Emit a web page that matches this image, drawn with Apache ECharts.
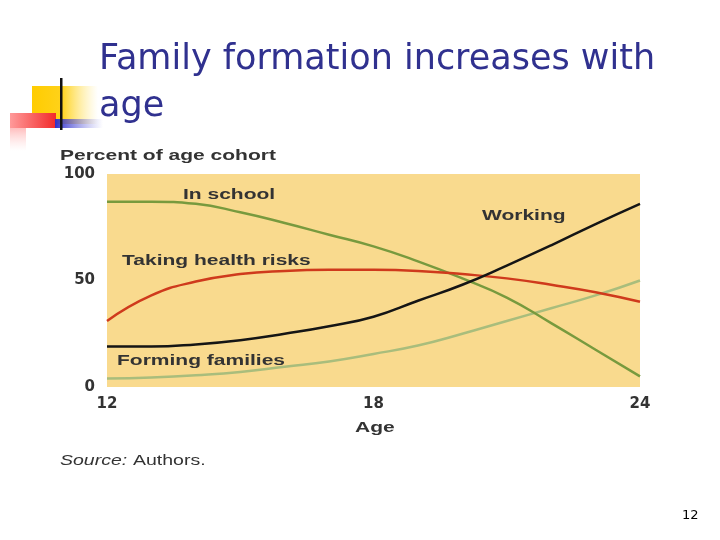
<!DOCTYPE html>
<html>
<head>
    <meta charset="UTF-8">
    <title>Family formation increases with age</title>
    <script src="https://cdn.jsdelivr.net/npm/echarts@6/dist/echarts.min.js"></script>
    <style>
        html, body { margin: 0; padding: 0; background: #fff; }
    </style>
</head>
<body>
<div id="container" style="height:540px;width:720px;"></div>
<script>
    // ages along the x axis
    var ages = [12, 13, 14, 15, 16, 17, 18, 19, 20, 21, 22, 23, 24];
    // percent of age cohort
    var inSchool = [87, 87, 86, 82, 77, 71.5, 66, 59, 51, 42, 30, 17.5, 5];
    var healthRisks = [31, 43, 49.5, 53, 54.5, 55, 55, 54.5, 53, 51, 48, 44.5, 40];
    var working = [19, 19, 20, 22, 25, 28.5, 33, 40.5, 48, 57, 66.5, 76.5, 86];
    var formingFamilies = [4, 4.5, 5.5, 7, 9.5, 12, 15.5, 19.5, 25, 31, 37, 43, 50];
    var xTicks = [12, 18, 24];
    var yTicks = [0, 50, 100];

    var dom = document.getElementById("container");
    var myChart = echarts.init(dom);

    function pairs(vals) {
        return ages.map(function (a, i) { return [a, vals[i]]; });
    }
    function line(name, vals, color, width) {
        return {
            name: name,
            type: 'line',
            smooth: 0.5,
            symbol: 'none',
            data: pairs(vals),
            lineStyle: {color: color, width: width},
            z: 3
        };
    }
    // stretched chart text (the picture is widened horizontally)
    function label(text, x, y, font, sx) {
        return {
            type: 'text',
            x: x, y: y,
            scaleX: sx || 1.4,
            style: {
                text: text,
                fill: '#333',
                font: font || 'bold 15px "Liberation Sans", Arial, sans-serif',
                verticalAlign: 'middle'
            },
            z: 10
        };
    }

    var option = {
        backgroundColor: '#ffffff',
        animation: false,
        grid: {
            left: 107, right: 80, top: 174, bottom: 153,
            show: true, backgroundColor: '#f9da8e', borderWidth: 0
        },
        xAxis: {
            type: 'value', min: 12, max: 24, interval: 6,
            axisLine: {show: false}, axisTick: {show: false}, splitLine: {show: false},
            axisLabel: {
                margin: 10, color: '#333', fontWeight: 'bold',
                fontFamily: 'DejaVu Sans', fontSize: 15,
                customValues: xTicks
            }
        },
        yAxis: {
            type: 'value', min: 0, max: 100, interval: 50,
            axisLine: {show: false}, axisTick: {show: false}, splitLine: {show: false},
            axisLabel: {
                margin: 12, color: '#333', fontWeight: 'bold',
                fontFamily: 'DejaVu Sans', fontSize: 15,
                customValues: yTicks
            }
        },
        series: [
            line('Forming families', formingFamilies, '#a9bd7c', 2.5),
            line('In school', inSchool, '#789a3e', 2.5),
            line('Taking health risks', healthRisks, '#cf3a1c', 2.5),
            line('Working', working, '#151515', 2.5)
        ],
        graphic: [
            // slide decoration
            {type: 'rect', shape: {x: 32, y: 86, width: 66, height: 38},
             style: {fill: new echarts.graphic.LinearGradient(0, 0, 1, 0, [
                 {offset: 0, color: '#ffcc00'}, {offset: 0.45, color: '#ffd21a'},
                 {offset: 1, color: 'rgba(255,230,120,0)'}])}},
            {type: 'rect', shape: {x: 10, y: 113, width: 16, height: 38},
             style: {fill: new echarts.graphic.LinearGradient(0, 0, 0, 1, [
                 {offset: 0, color: '#ff6f6f'}, {offset: 1, color: 'rgba(255,200,200,0)'}])}},
            {type: 'rect', shape: {x: 10, y: 113, width: 46, height: 15},
             style: {fill: new echarts.graphic.LinearGradient(0, 0, 1, 0, [
                 {offset: 0, color: '#ff9a9a'}, {offset: 1, color: '#f22a2a'}])}},
            {type: 'rect', shape: {x: 55, y: 119, width: 48, height: 9},
             style: {fill: new echarts.graphic.LinearGradient(0, 0, 1, 0, [
                 {offset: 0, color: '#2f2fc8'}, {offset: 1, color: 'rgba(120,120,230,0)'}])}},
            {type: 'rect', shape: {x: 60, y: 78, width: 2.5, height: 52}, style: {fill: '#111'}},
            // slide title
            {type: 'text', x: 99, y: 60, style: {text: 'Family formation increases with',
                fill: '#30318f', font: '35px "DejaVu Sans", sans-serif', verticalAlign: 'middle'}},
            {type: 'text', x: 99, y: 107, style: {text: 'age',
                fill: '#30318f', font: '35px "DejaVu Sans", sans-serif', verticalAlign: 'middle'}},
            // chart texts
            label('Percent of age cohort', 60, 156),
            label('In school', 183, 195),
            label('Working', 482, 216),
            label('Taking health risks', 122, 261),
            label('Forming families', 117, 361),
            label('Age', 355, 428),
            label('Source:', 60, 461, 'italic 15px "Liberation Sans", Arial, sans-serif', 1.3),
            label('Authors.', 133, 461, '15px "Liberation Sans", Arial, sans-serif', 1.3),
            // page number
            {type: 'text', x: 682, y: 516, style: {text: '12', fill: '#000',
                font: '13px "DejaVu Sans", sans-serif', verticalAlign: 'middle'}}
        ]
    };
    myChart.setOption(option);
</script>
</body>
</html>
